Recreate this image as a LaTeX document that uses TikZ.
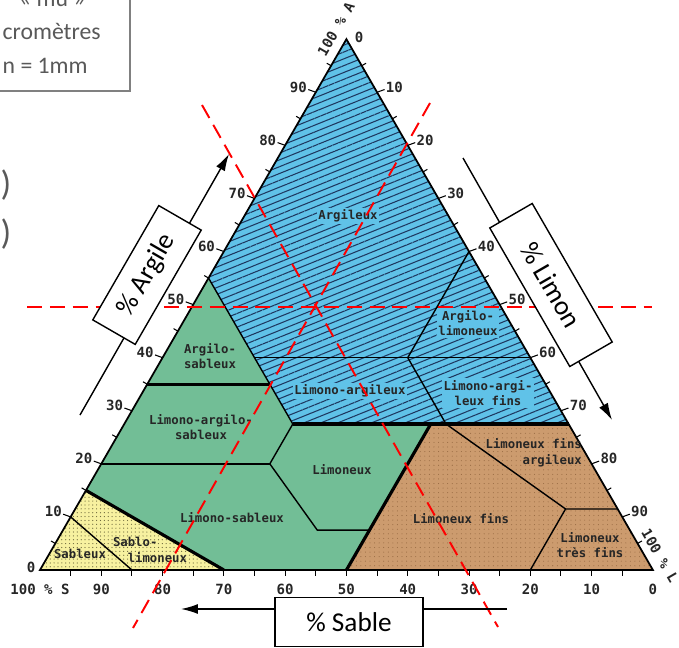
\documentclass[tikz,border=0pt]{standalone}
\usepackage{fontspec}
\setmainfont{Carlito}
\newfontfamily\typefont{DejaVu Sans Mono}
\usetikzlibrary{arrows.meta,patterns.meta}

\definecolor{argblue}{RGB}{96,194,232}
\definecolor{hatchblue}{RGB}{30,55,95}
\definecolor{limgreen}{RGB}{114,190,150}
\definecolor{finbrown}{RGB}{204,155,110}
\definecolor{dotbrown}{RGB}{150,105,65}
\definecolor{sabyellow}{RGB}{247,241,160}
\definecolor{dotyellow}{RGB}{110,105,60}
\definecolor{notegray}{RGB}{89,89,89}

\tikzset{
  zone/.style={font=\typefont\bfseries\fontsize{7}{8.8}\selectfont, text=black!85, align=center, inner sep=1pt},
  edge label/.style={font=\typefont\bfseries\fontsize{8}{9.5}\selectfont, text=black!85, inner sep=0.5pt},
  tick/.style={line width=0.6pt},
  thin border/.style={line width=0.8pt},
  thick border/.style={line width=1.8pt},
  reading/.style={red, line width=1.1pt, dash pattern=on 8.5pt off 4.5pt},
  axis box/.style={draw, fill=white, line width=0.8pt, font=\fontsize{15.5}{18}\selectfont, minimum height=0.98cm},
  axis arrow/.style={line width=0.8pt, -{Latex[length=0.34cm,width=0.2cm]}},
  note/.style={text=notegray, font=\fontsize{13.5}{16}\selectfont, inner sep=0pt}
}

\begin{document}
\begin{tikzpicture}[x=0.02cm, y=-0.02cm]
\useasboundingbox (0,0) rectangle (679,648);

% triangle des textures, coordonnees (% limon, % argile)
\begin{scope}[shift={(40,570)}, x={(0.1226cm,0cm)}, y={(0.0613cm,0.10618cm)}]
  \coordinate (S) at (0,0);
  \coordinate (L) at (100,0);
  \coordinate (A) at (0,100);
  \coordinate (a55) at (0,55);
  \coordinate (a35) at (0,35);
  \coordinate (a20) at (0,20);
  \coordinate (a15) at (0,15);
  \coordinate (a10) at (0,10);
  \coordinate (s45a) at (20,35);
  \coordinate (s45b) at (27.5,27.5);
  \coordinate (hexa) at (27.5,20);
  \coordinate (hexb) at (41.5,7.5);
  \coordinate (hexc) at (50,7.5);
  \coordinate (l50a) at (50,0);
  \coordinate (l50b) at (50,27.5);
  \coordinate (s20a) at (52.5,27.5);
  \coordinate (edge275) at (72.5,27.5);
  \coordinate (c40a) at (15,40);
  \coordinate (c40b) at (40,40);
  \coordinate (c40c) at (60,40);
  \coordinate (l40) at (40,60);
  \coordinate (tfa) at (80,0);
  \coordinate (tfb) at (80,11.5);
  \coordinate (tfc) at (88.5,11.5);
  \coordinate (s70) at (30,0);
  \coordinate (s85) at (15,0);

  % zones
  \fill[argblue] (A) -- (a55) -- (s45b) -- (edge275) -- cycle;
  \fill[pattern={Lines[angle=22,distance=3.6pt,line width=0.6pt]}, pattern color=hatchblue]
    (A) -- (a55) -- (s45b) -- (edge275) -- cycle;
  \fill[limgreen] (a55) -- (s45b) -- (l50b) -- (l50a) -- (s70) -- (a15) -- cycle;
  \fill[finbrown] (l50b) -- (edge275) -- (L) -- (l50a) -- cycle;
  \fill[pattern={Dots[radius=0.3pt,distance=2.6pt]}, pattern color=dotbrown]
    (l50b) -- (edge275) -- (L) -- (l50a) -- cycle;
  \fill[sabyellow] (a15) -- (s70) -- (S) -- cycle;
  \fill[pattern={Dots[radius=0.35pt,distance=2.2pt]}, pattern color=dotyellow]
    (a15) -- (s70) -- (S) -- cycle;

  % limites
  \draw[thin border] (a10) -- (s85);
  \draw[thin border] (a20) -- (hexa);
  \draw[thin border] (a55) -- (s45b) -- (hexa) -- (hexb) -- (hexc);
  \draw[thin border] (c40a) -- (c40c);
  \draw[thin border] (l40) -- (c40b) -- (s20a) -- (tfb) -- (tfc);
  \draw[thin border] (tfa) -- (tfb);
  \draw[thick border] (a35) -- (s45a);
  \draw[thick border] (s45b) -- (edge275);
  \draw[thick border] (l50a) -- (l50b);
  \draw[thick border] (a15) -- (s70);
  \draw[line width=1pt] (S) -- (L) -- (A) -- cycle;

  % graduations
  \foreach \v in {5,15,...,95} {
    \draw[tick] (0,\v) -- ++(150:0.1cm);
    \draw[tick] (100-\v,\v) -- ++(30:0.1cm);
  }
  \foreach \v in {5,10,...,95}
    \draw[tick] (\v,0) -- ++(0cm,-0.12cm);
  \foreach \v in {10,20,...,90} {
    \draw[tick] (0,\v) -- ++(160:0.16cm) node[edge label, anchor=east, yshift=0.05cm] {\v};
    \draw[tick] (\v,100-\v) -- ++(20:0.16cm) node[edge label, anchor=west, yshift=0.05cm] {\v};
  }
  \foreach \v/\t in {0/{100 \% S},10/90,20/80,30/70,40/60,50/50,60/40,70/30,80/20,90/10,100/0}
    \node[edge label, below=0.26cm] at (\v,0) {\t};
\end{scope}

\node[edge label] (zero-a) at (31,567) {0};
\node[edge label] (zero-l) at (359,37) {0};
\node[edge label, rotate=60] (cent-a) at (336,29) {100 \% A};
\node[edge label, rotate=-60] (cent-l) at (660,556) {100 \% L};

% noms des classes
\node[zone, fill=argblue] (argileux) at (348,216) {Argileux};
\node[zone, fill=argblue] (argilo-limoneux) at (468,323) {Argilo-\\limoneux};
\node[zone, fill=argblue] (limono-argileux-fins) at (488,393) {Limono-argi-\\leux fins};
\node[zone, fill=argblue] (limono-argileux) at (350,391) {Limono-argileux};
\node[zone] (argilo-sableux) at (210,356) {Argilo-\\sableux};
\node[zone] (limono-argilo-sableux) at (201,427) {Limono-argilo-\\sableux};
\node[zone] (limoneux) at (342,470) {Limoneux};
\node[zone] (limono-sableux) at (232,518) {Limono-sableux};
\node[zone] (limoneux-fins) at (461,519) {Limoneux fins};
\node[zone, align=right, anchor=east] (limoneux-fins-argileux) at (584,453) {Limoneux fins\\argileux};
\node[zone] (limoneux-tres-fins) at (590,545) {Limoneux\\très fins};
\node[zone] (sableux) at (80,554) {Sableux};
\node[zone, align=left] (sablo-limoneux) at (150,550) {Sablo-\\\hspace*{1.2em}limoneux};

% lecture du point
\coordinate (h-w) at (27,307);
\coordinate (h-e) at (652,307);
\coordinate (s-n) at (202,105);
\coordinate (s-s) at (498,627);
\coordinate (l-n) at (430,103);
\coordinate (l-s) at (133,628);
\draw[reading] (h-w) -- (h-e);
\draw[reading] (s-n) -- (s-s);
\draw[reading] (l-n) -- (l-s);

% sens de lecture
\coordinate (argile-tail) at (80,415);
\coordinate (argile-tip) at (229,154);
\coordinate (limon-tail) at (463,158);
\coordinate (limon-tip) at (612,420);
\coordinate (sable-tail) at (507,609);
\coordinate (sable-tip) at (181,609);
\draw[axis arrow] (argile-tail) -- (argile-tip);
\draw[axis arrow] (limon-tail) -- (limon-tip);
\draw[axis arrow] (sable-tail) -- (sable-tip);
\node[axis box, rotate=60, minimum width=2.64cm] (argile) at (147,275) {\% Argile};
\node[axis box, rotate=-60, minimum width=3.2cm] (limon) at (551,285) {\% Limon};
\node[axis box, minimum width=2.96cm] (sable) at (349,622) {\% Sable};

% encadre coupe
\begin{scope}
  \clip (0,0) rectangle (679,648);
  \draw[gray, line width=0.7pt] (-20,-20) rectangle (130,91);
  \node[note, anchor=base east] (mu) at (86,6.5) {« mu »};
  \node[note, anchor=base east] (micro) at (101,40) {cromètres};
  \node[note, anchor=base east] (mm) at (88,74) {n = 1mm};
  \node[note, font=\fontsize{20}{24}\selectfont] (par-a) at (6,185) {)};
  \node[note, font=\fontsize{20}{24}\selectfont] (par-b) at (6,234) {)};
\end{scope}
\end{tikzpicture}
\end{document}
